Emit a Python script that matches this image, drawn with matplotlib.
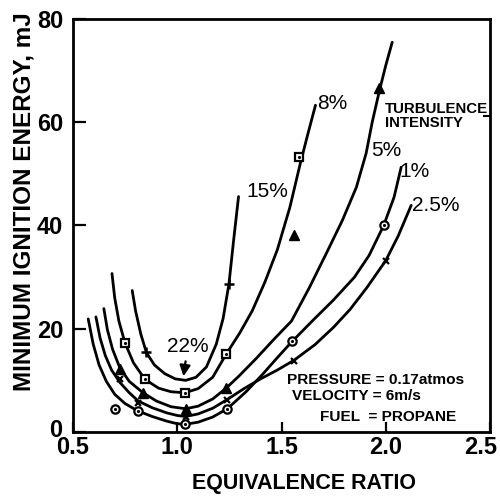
import matplotlib
matplotlib.use("Agg")
import matplotlib.pyplot as plt
import matplotlib.transforms as mtrans

# ---------------- data ----------------
# smooth hand-drawn curves
eq_1 = [0.573, 0.597, 0.625, 0.66, 0.70, 0.75, 0.81, 0.88, 0.95, 1.00, 1.04, 1.10, 1.17, 1.24,
        1.33, 1.41, 1.48, 1.55, 1.65, 1.75, 1.85, 1.92, 1.99, 2.04, 2.074]
mie_1 = [21.9, 17.0, 13.0, 9.8, 7.3, 5.5, 4.1, 3.0, 2.1, 1.6, 1.5, 1.9, 2.9, 4.5,
         7.8, 11.2, 14.4, 17.5, 21.6, 25.6, 30.0, 34.2, 40.0, 45.5, 51.3]

eq_25 = [0.61, 0.63, 0.655, 0.685, 0.725, 0.77, 0.813, 0.88, 0.95, 1.00, 1.04, 1.10, 1.17, 1.24,
         1.32, 1.40, 1.48, 1.56, 1.66, 1.75, 1.83, 1.91, 2.00, 2.06, 2.122]
mie_25 = [22.3, 18.2, 14.8, 12.0, 9.6, 7.6, 6.0, 4.7, 3.7, 3.2, 3.0, 3.5, 4.6, 6.3,
          8.4, 10.3, 12.0, 13.9, 16.9, 20.3, 23.8, 28.0, 33.2, 38.0, 43.9]

eq_5 = [0.648, 0.665, 0.69, 0.725, 0.77, 0.836, 0.90, 0.97, 1.04, 1.10, 1.17, 1.235, 1.30, 1.38,
        1.46, 1.548, 1.634, 1.715, 1.792, 1.859, 1.906, 1.935, 1.969, 2.00, 2.031]
mie_5 = [23.9, 19.8, 16.0, 12.4, 9.8, 7.6, 6.0, 4.9, 4.5, 5.0, 6.4, 8.5, 11.0, 14.3,
         17.8, 21.5, 28.0, 34.6, 41.0, 47.4, 54.0, 60.0, 66.0, 71.0, 75.5]

eq_8 = [0.687, 0.70, 0.72, 0.749, 0.79, 0.845, 0.91, 0.97, 1.036, 1.10, 1.17, 1.235, 1.30, 1.36,
        1.42, 1.48, 1.54, 1.59, 1.625, 1.663]
mie_8 = [30.7, 26.0, 21.5, 17.3, 13.4, 10.2, 8.5, 7.8, 7.6, 8.4, 10.6, 15.1, 19.2, 23.5,
         29.0, 35.3, 43.5, 52.0, 57.5, 63.3]

eq_15 = [0.784, 0.80, 0.825, 0.852, 0.89, 0.94, 0.99, 1.04, 1.09, 1.14, 1.187, 1.22, 1.248, 1.27, 1.294]
mie_15 = [27.4, 23.5, 19.0, 15.4, 13.0, 11.3, 10.3, 10.0, 10.6, 12.6, 17.0, 22.0, 28.7, 37.0, 45.6]

# measured points
pts1_x = [0.70, 0.813, 1.039, 1.24, 1.548, 1.993]
pts1_y = [4.4, 4.1, 1.5, 4.5, 17.7, 40.0]
pts25_x = [0.725, 0.813, 1.04, 1.24, 1.562, 2.002]
pts25_y = [10.2, 5.7, 3.0, 6.2, 13.8, 33.2]
pts5_x = [0.725, 0.836, 1.04, 1.235, 1.562, 1.969]
pts5_y = [12.2, 7.6, 4.4, 8.5, 38.2, 66.6]
pts8_x = [0.749, 0.845, 1.036, 1.235, 1.586]
pts8_y = [17.3, 10.2, 7.6, 15.1, 53.2]
pts15_x = [0.852, 1.248]
pts15_y = [15.4, 28.7]
pt22 = (1.03, 10.8)

x_ticks = [0.5, 1.0, 1.5, 2.0, 2.5]
x_ticklabels = ["0.5", "1.0", "1.5", "2.0", "2.5"]
y_ticks = [0, 20, 40, 60, 80]
y_ticklabels = ["0", "20", "40", "60", "80"]

curve_labels = ["15%", "8%", "5%", "1%", "2.5%"]
label_pos = [(1.333, 46.5), (1.672, 63.7), (1.93, 54.5), (2.065, 50.4), (2.127, 43.9)]

conditions = ["PRESSURE = 0.17atmos", "VELOCITY = 6m/s", "FUEL  = PROPANE"]
cond_pos = [(1.526, 10.1), (1.55, 7.0), (1.685, 3.0)]

# ---------------- figure ----------------
plt.rcParams['font.family'] = ['Liberation Sans', 'DejaVu Sans']
plt.rcParams['font.weight'] = 'bold'

fig = plt.figure(figsize=(5.0, 4.98), dpi=100)
ax = fig.add_axes([73/500, 1-432/498, (490-73)/500, (432-19)/498])

lw = 2.0
for xs, ys in [(eq_1, mie_1), (eq_25, mie_25), (eq_5, mie_5), (eq_8, mie_8), (eq_15, mie_15)]:
    ax.plot(xs, ys, color='black', lw=lw, solid_capstyle='round', zorder=2)

# markers
ax.plot(pts1_x, pts1_y, 'o', ms=6, mfc='white', mec='black', mew=1.6, ls='none', zorder=3)
ax.plot(pts1_x, pts1_y, '.', ms=2.5, color='black', ls='none', zorder=4)
ax.plot(pts8_x, pts8_y, 's', ms=6, mfc='white', mec='black', mew=1.6, ls='none', zorder=3)
ax.plot(pts8_x, pts8_y, '.', ms=2.5, color='black', ls='none', zorder=4)
ax.plot(pts5_x, pts5_y, '^', ms=7, color='black', ls='none', zorder=3)
ax.plot(pts25_x, pts25_y, 'x', ms=5, mew=1.6, color='black', ls='none', zorder=3)
ax.plot(pts15_x, pts15_y, '+', ms=7, mew=1.8, color='black', ls='none', zorder=3)

# 22% arrow
ax.annotate("22%", xy=pt22, xytext=(1.05, 16.6), ha='center', va='center',
            fontsize=15, fontweight='normal',
            arrowprops=dict(arrowstyle='-|>', lw=1.6, color='black', mutation_scale=16,
                            shrinkA=2, shrinkB=0))

for lab, (lx, ly) in zip(curve_labels, label_pos):
    ax.text(lx, ly, lab, ha='left', va='center', fontsize=15, fontweight='normal')

ax.text(1.996, 61.2, "TURBULENCE\nINTENSITY", ha='left', va='center', fontsize=10.8,
        fontweight='bold', linespacing=1.0)
ax.plot([2.468, 2.5], [61.2, 61.2], color='black', lw=1.5, solid_capstyle='butt', clip_on=False)

for txt, (cx, cy) in zip(conditions, cond_pos):
    ax.text(cx, cy, txt, ha='left', va='center', fontsize=11.1, fontweight='bold')

ax.set_xlim(0.5, 2.5)
ax.set_ylim(0, 80)
ax.set_xticks(x_ticks)
ax.set_xticklabels(x_ticklabels)
ax.set_yticks(y_ticks)
ax.set_yticklabels(y_ticklabels)
ax.tick_params(axis='x', direction='in', length=7, width=1.6, pad=3, labelsize=17)
ax.tick_params(axis='y', direction='in', length=9, width=1.6, pad=7, labelsize=17)
for sp in ax.spines.values():
    sp.set_linewidth(2.0)

# small nudges of the corner tick labels, as in the original drawing
t0 = ax.yaxis.get_major_ticks()[0].label1
t0.set_transform(t0.get_transform() + mtrans.ScaledTranslation(-1/72, 3/72, fig.dpi_scale_trans))
t25 = ax.xaxis.get_major_ticks()[-1].label1
t25.set_transform(t25.get_transform() + mtrans.ScaledTranslation(-7/72, 0, fig.dpi_scale_trans))

fig.text(304/500, 1-483/498, "EQUIVALENCE RATIO", ha='center', va='center', fontsize=15.5,
         fontweight='bold')
fig.text(24/500, 1-202/498, "MINIMUM IGNITION ENERGY, mJ", ha='center', va='center',
         rotation=90, fontsize=17.5, fontweight='bold')

fig.savefig("out.png", dpi=100)
